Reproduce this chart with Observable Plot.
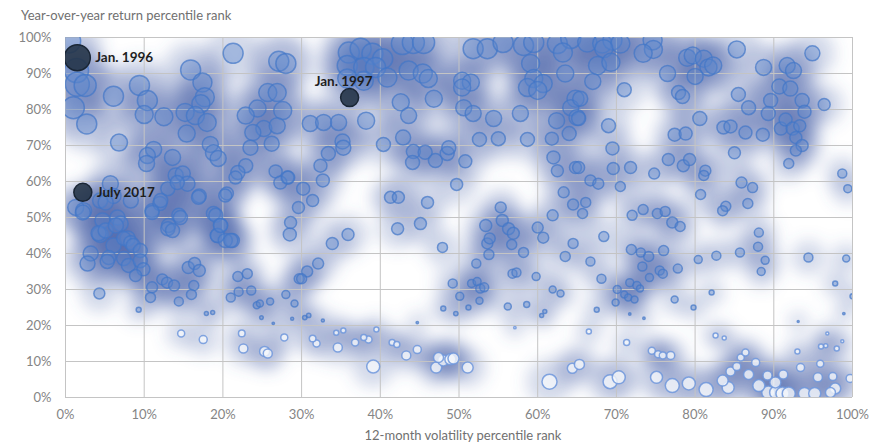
<!DOCTYPE html>
<html><head><meta charset="utf-8">
<script src="https://cdn.jsdelivr.net/npm/d3@7"></script>
<script src="https://cdn.jsdelivr.net/npm/@observablehq/plot@0.6"></script>
<style>body{margin:0;background:#fff}</style>
</head><body><div id="chart"></div>
<script>
// [volatility percentile, return percentile, bubble magnitude]
const bubbles = [
[1.4,90.8,12],[1.5,87,12],[2.5,86.7,11],[1.0,80.5,11],[2.7,76,10],[6.1,83.7,10],[9.4,86.7,10],[10.4,82.5,10],[10,78.6,9],[12.5,78,9],[15.9,91,10],[17.4,87.5,9.5],[17.7,83.4,9.5],[17.2,81.6,9],[15.2,79.2,9],[16.5,78.3,9],[18,76.4,9],[15.4,73.3,8.5],[21.3,95.6,10],[27.1,93.4,10],[28,92.8,10],[25.7,84.7,9],[26.9,84.7,9],[24.4,80.3,8.5],[27.6,79.7,9],[22.9,78.3,8.5],[25.2,74.7,8],[26.9,75.5,8],[23.8,73.6,8],[26.2,70.5,7.5],[23.5,69.4,7.5],[18.4,70.3,8],[18.8,68,8],[19.4,66.4,8],[6.8,70.8,8.5],[11.2,68.9,8],[10.4,67.2,8],[10.3,65,8],[13.6,66.7,8],[14,61.7,7.5],[14.9,62.2,7.5],[15.5,59.4,7.5],[13,58,7],[17,56,7],[20.5,56.7,6.5],[22.9,64.4,7],[21.6,61.1,6.5],[26.7,62.8,6.5],[28.2,61.1,6.5],[27.3,59.7,6.5],[5.7,59.4,8],[6.1,56,7.5],[4.4,54.7,7.5],[1.3,52.8,8],[2.3,51.9,8],[11,51.9,7],[12,53.9,7],[14.4,50.6,7],[18.8,51.1,7],[0.4,99,12],
[2.2,51.4,7.5],[4.7,49.2,7.5],[6.6,50,7.5],[7.0,48.3,7.5],[4.2,45.6,7.5],[5.1,46.4,7.5],[5.5,38.9,7],[7.4,44.2,7],[8.3,43,7],[8.3,54.7,7.5],[5.1,54.2,7.5],[14.2,59.7,7],[12.1,54.7,7],[11,51.4,7],[14.6,50,7],[13.1,47.8,7],[16.9,55.6,7],[20.3,56.1,6.5],[19.1,50.6,7],[19.7,47.8,7],[21.2,43.6,7],[19.3,45,7],[21.9,62.5,7],
[36,95.8,10.5],[37.5,96.9,10.5],[39,95.5,10.5],[40.3,94.1,10],[35.8,92.2,10],[37.9,91.7,10],[39.4,91.7,10],[40.9,88.9,9.5],[35.8,88.6,9.5],[37.9,88,9.5],[42.8,98.3,11],[44.2,98.6,11],[45.5,98.6,11],[43.6,90.8,9.5],[45.4,90,9.5],[46.1,88.6,9],[51.8,96.9,10],[53.6,96.9,10],[55.6,98.6,10],[58.2,97.8,10],[59.5,98.6,10],[62.5,98.3,10],[63.2,95.8,9.5],[64.2,99.7,10],[59.1,92.8,9],[50.4,88,8.5],[51.5,87.5,8.5],[50.4,86.1,8.5],[46.8,83,8.5],[42.6,82,8.5],[43.6,78.3,8],[50.6,80.5,8],[51.8,78.9,8],[54.4,77.5,8],[57.8,78.9,8],[59.5,88.6,9],[60.7,87.2,9],[58.7,86.1,9],[60,85.3,9],[63.5,90,8.5],[64.8,83,8.5],[64.2,80.5,8],[62.4,76.9,8],[65,77.8,8],[31.1,76.1,8],[32.8,76.4,8],[34.7,76.4,8],[38.2,76.9,8.5],[35.2,71.1,7.5],[35.3,69.4,7.5],[40.4,70.3,7],[42.9,72.2,7.5],[44.2,68.3,7],[45.7,68.1,7],[47,65.8,7],[44.1,65.3,7],[48.5,67.8,7],[48.7,69.4,7],[50.8,65.6,6.5],[52.6,71.7,7],[55,71.9,7],[58.7,71.7,7],[61.8,71.9,6.5],[64,73.3,7],[62,66.7,6.5],[62.5,63,6],[64.8,63.9,6],[33.4,67.8,7],[32.4,64.4,6.5],[32.7,60.3,6.5],[28.3,61.1,6.5],[30.2,58,6.5],[31.4,54.7,6],[29.6,52.8,6],[41.3,55.6,6],[42.3,55.6,6],[46,54.2,6],[49.7,59.2,6],[55.3,52.8,5.5],[63.3,57,5.5],[64.5,53.6,5.5],[61.9,50.6,5.5],
[66.3,98.6,9.5],[68.2,98.3,9.5],[69.5,99.2,9.5],[70.5,98.3,9.5],[68.4,96.9,9],[67.6,92.2,9],[69.3,93.1,9],[74.6,99.2,9.5],[74.7,96.7,9],[73.4,95.6,9],[76.5,90,8],[79,94.4,8.5],[79.7,95,8.5],[81.1,94.1,8.5],[81.7,91.7,8.5],[82.3,92.2,8.5],[80,89.2,8],[85.3,96.7,8.5],[88.7,91.7,8],[91.7,92.2,8],[92.5,90.8,8],[94.9,95.6,7.5],[67,87.8,8],[71,85.5,7],[77.9,84.7,7],[78.4,83.6,7],[85.5,84.2,7],[86.8,80.5,7],[89.6,82.5,7],[89.3,78.9,7],[90.7,86.4,7.5],[92.1,85.8,7.5],[93.6,82.5,7],[93.9,79.4,6.5],[96.4,81.4,6],[65.4,83,7.5],[65.2,77.5,7],[69,75.5,7],[77.4,73,6.5],[78.8,73.3,6.5],[80.6,77.5,7],[83.6,75,6.5],[84.5,75.3,6.5],[86.4,73.6,6.5],[88.6,73,6.5],[90.9,74.7,6.5],[91.5,77.2,6.5],[92.4,74.7,6.5],[93.3,75.5,6],[92.8,72.2,6],[93.6,70,6],[92.8,68.6,5.5],[69.5,69.2,6.5],[65.2,63.9,6],[69.6,63.6,6],[71.8,63.9,6],[76.6,66.1,6],[78.5,64.4,6],[79.3,66.1,6],[81.3,63,5.5],[81.1,61.7,5],[85,68,6],[91.9,65,5],[98.7,62.2,4.5],[99.4,58,4],[66.7,60.3,5.5],[67.7,59.4,5.5],[70.5,58.6,5],[74.8,62.2,5.5],[80.7,56.4,5],[85.9,59.7,5.5],[87.3,58.3,5],[86.7,53.9,5],[83.9,53.1,5],[83.5,51.9,5],[73.4,52.2,5],[75.2,51.1,5],[76.2,51.7,5],[66.1,54.2,5],[65.7,51.1,5],[72,50.6,5],
[4.4,45.3,8],[6.4,47.8,7.5],[6.1,42.2,7.5],[7.9,44.2,7.5],[8.6,42.2,7],[9.5,40.8,7],[3.2,40,7.5],[2.8,37.2,7.5],[5.3,37.8,7],[7.4,38.6,7],[8,36.7,7],[9.5,38,7],[9.9,35.6,6.5],[8.9,33.9,6],[4.3,28.9,5.5],[9.3,24.4,2.5],[11,30.6,5.5],[10.8,27.8,5],[12.3,32.8,5.5],[12.9,31.9,5.5],[13.8,31.1,5.5],[14.4,26.7,4.5],[15.6,36.1,6],[16.4,37.2,6],[17,35.3,6],[16.3,31.1,5],[16,28.6,5],[17.9,23.3,2],[18.7,23.6,2],[14.7,17.8,3.5],[17.5,16.1,4],[19.3,45,7],[20.3,43.6,7],[21,43.6,7],[13,46.9,7],[13.6,46.4,7],[19.7,47.8,7],[21.9,33.6,5],[23.1,34.4,5],[22,29.4,4.5],[23.6,29.7,4.5],[21,27.8,4.5],[24.3,25.6,3.5],[24.7,26.1,3.5],[26,26.7,3.5],[28,28.6,4],[29.1,26.1,3.5],[24.9,22.2,1.8],[22.4,17.8,3.3],[22.6,13.6,4.5],[25.3,12.8,5],[25.7,12.2,4.5],[27.8,16.7,3.5],[28.5,45.3,6.5],[28.6,48.6,6],[29.7,33,5],[26.4,20.6,1.2],[28.8,21.9,1.5],
[33.9,42.8,6],[35.9,45.3,6],[42.2,46.9,6],[45.1,48.3,6],[32.1,37.2,5.5],[30.7,35,5.5],[30,33,5],[30.4,22.2,2.2],[30.9,22.8,2.2],[32.7,21.4,1.5],[31.4,16.4,3.3],[31.9,15,3.5],[34.6,13.9,4.5],[34.4,18,2.5],[35.3,18.6,2.5],[36.8,15.3,3.5],[37.9,16.7,3],[38.5,16.1,3.5],[39.5,18.9,2.5],[39.1,8.6,6.5],[41.5,15.3,3],[42.1,14.7,3],[43.3,11.7,4.5],[44.7,13.3,4],[47.4,11.1,5],[47.1,8.3,5.5],[48,10.3,5.5],[48.9,10.6,5.5],[49.3,10.8,5.5],[51.1,8.3,5.5],[44.7,20.8,1.2],[47.9,41.7,5],[49.2,31.7,4.5],[50.1,28.1,4],[48,24.7,2.5],[49.6,23.3,2.2],[51.2,25,2.5],[51.6,31.7,4],[52.3,32.2,4],[52.7,30.3,4.5],[53.2,30.6,4.5],[52.6,26.9,3.5],[52.2,37.2,4.5],[53.8,39.7,5],[53.4,47.8,6],[53.6,42.8,5.5],[53.9,44.2,5.5],[55.5,49.2,6],[56.3,46.9,6],[56.9,45.6,6],[56.7,42.5,5],[58.2,40.3,5],[56.8,34.4,4.5],[57.3,34.7,4.5],[56.2,25.3,3.5],[58.6,25.8,3],[57.1,19.4,1.2],[60,47.2,5.5],[60.7,44.4,5.5],[59.8,33.6,4],[61.9,30,3.5],[62.9,28.9,3.5],[60.5,22.8,2],[60.9,23.9,2],[63.5,39.2,5],[64.5,42.8,5],[61.5,4.4,7.5],[64.4,8.1,5],[65.3,9.2,5],
[68.4,44.7,5],[77.1,48.6,5.5],[78.1,47.5,5],[66.7,37.8,4.5],[68.1,33,4.5],[71.9,41.1,5],[73.1,40.3,4.5],[74.1,39.2,5],[76,40.8,5],[73.3,36.4,4.5],[74.2,33.3,4],[75.5,35.3,4.5],[75.9,34.4,4.5],[77.8,35.8,4.5],[71.7,31.9,4],[72.6,31.1,4],[73,30.3,3.5],[70.1,30,4],[71,28.6,3.5],[71.5,27.8,3.5],[72.3,27.2,3.5],[69.9,26.4,3.5],[67.5,24.4,2.5],[77.4,27.2,3.5],[79.8,25,2.5],[80.4,38.3,4],[82.7,39.4,4.5],[85.7,40.3,4.5],[88.1,45.8,4.5],[88,41.9,4.5],[88.9,38.1,4],[88.4,35,4],[82.1,29.2,2.5],[94.4,38.9,4.5],[99.2,38.6,3.5],[97.8,31.7,2.5],[100,28.1,2.5],[98.9,23.3,1.2],[93.1,21.1,1],[66.5,18.3,2.5],[71.3,15.3,3],[74.5,13,3.5],[75.3,12,3.5],[75.9,11.7,3.5],[76.9,11.7,4],[82.6,17.2,2.5],[69.2,4.4,7],[70.3,5.6,6.5],[75.1,5.6,6],[77.1,3.3,7],[79.2,3.9,6.5],[81.4,2.2,7],[83.5,4.7,5.5],[84.2,2.8,6],[84.5,7.2,4.5],[85.3,8.6,4],[85.8,11.1,3.5],[86.4,12.5,3.5],[87.7,9.7,4],[86.8,6.4,5],[88.1,3.3,6],[89.3,1.4,6.5],[89.2,6.1,4.5],[90.2,4.2,5.5],[90.3,1.4,6.5],[91.1,1.1,6.5],[91.9,1.1,6.5],[91.2,6.4,4.5],[93.4,8.3,4],[93.9,1.1,6],[95.2,1.1,6],[95.6,5.6,4.5],[95.9,9.4,3.5],[97.5,5.8,4],[97.8,2.5,5.5],[97.2,1.4,5],[99.7,5.3,4],[93,12.8,2.5],[96,14.2,2.5],[96.6,14.4,2],[98,13.6,2.5],[98.7,15.6,1.5],[96.8,17.8,1.5],[71.7,23.2,1.2],[73.5,22,1.2],[83.7,16.5,2]
];

const highlights = [
  {label: "Jan. 1996", vol: 1.5, ret: 94.4, size: 13},
  {label: "July 2017", vol: 2.2, ret: 57.0, size: 9},
  {label: "Jan. 1997", vol: 36.1, ret: 83.3, size: 9}
];

const ticks = [0, 10, 20, 30, 40, 50, 60, 70, 80, 90, 100];
const tickLabels = ["0%", "10%", "20%", "30%", "40%", "50%", "60%", "70%", "80%", "90%", "100%"];
const yTitle = "Year-over-year return percentile rank";
const xTitle = "12-month volatility percentile rank";

const negative = d => d[1] < 20.5;
const fmt = d => tickLabels[ticks.indexOf(d)];
const FONT = "Lato, 'Open Sans', sans-serif";

const chart = Plot.plot({
  width: 875, height: 448,
  marginLeft: 65, marginRight: 23, marginTop: 37, marginBottom: 51,
  style: {fontFamily: FONT, fontSize: "13px", color: "#858585", background: "#fff"},
  x: {domain: [0, 100], ticks, tickFormat: fmt, label: null, tickSize: 0, tickPadding: 12},
  y: {domain: [0, 100], ticks, tickFormat: fmt, label: null, tickSize: 0, tickPadding: 14},
  r: {type: "identity"},
  marks: [
    Plot.dot(bubbles, {x: d => d[0], y: d => d[1], r: d => d[2] * 2 + 8, fill: "rgba(78,102,170,0.25)", stroke: null, clip: true}),
    Plot.gridX(ticks, {stroke: "#c4c4c4", strokeOpacity: 1, strokeWidth: 1}),
    Plot.gridY(ticks, {stroke: "#c4c4c4", strokeOpacity: 1, strokeWidth: 1}),
    Plot.dot(bubbles, {
      x: d => d[0], y: d => d[1], r: d => d[2],
      fill: d => negative(d) ? "rgba(246,248,252,0.78)" : "rgba(92,136,206,0.40)",
      stroke: d => negative(d) ? "rgba(110,150,220,0.85)" : "rgba(66,118,200,0.70)",
      strokeWidth: 1.5, clip: true
    }),
    Plot.dot(highlights, {x: "vol", y: "ret", r: "size", fill: "rgba(34,50,70,0.88)", stroke: "#1a2635", strokeWidth: 1.5, clip: true}),
    Plot.text(highlights.filter(d => d.label === "Jan. 1996"), {x: "vol", y: "ret", text: "label", dx: 18, textAnchor: "start", fontWeight: "bold", fontSize: 13.5, fill: "#1e1e1e"}),
    Plot.text(highlights.filter(d => d.label === "July 2017"), {x: "vol", y: "ret", text: "label", dx: 14, textAnchor: "start", fontWeight: "bold", fontSize: 13.5, fill: "#1e1e1e"}),
    Plot.text(highlights.filter(d => d.label === "Jan. 1997"), {x: "vol", y: "ret", text: "label", dx: -6, dy: -16, textAnchor: "middle", fontWeight: "bold", fontSize: 13.5, fill: "#1e1e1e"})
  ]
});

document.getElementById("chart").appendChild(chart);

const svg = d3.select(chart);
const defs = svg.insert("defs", ":first-child");
const f = defs.append("filter").attr("id", "glowBlur")
  .attr("filterUnits", "userSpaceOnUse").attr("x", 0).attr("y", 0).attr("width", 875).attr("height", 448);
f.append("feGaussianBlur").attr("stdDeviation", 8);
const dotGroups = svg.selectAll('g[aria-label="dot"]').nodes();
if (dotGroups.length) d3.select(dotGroups[0]).attr("filter", "url(#glowBlur)");

svg.append("text").attr("x", 21).attr("y", 20).attr("text-anchor", "start")
  .attr("fill", "#707070").attr("font-size", 13).attr("font-family", FONT)
  .text(yTitle);
svg.append("text").attr("x", 463).attr("y", 440).attr("text-anchor", "middle")
  .attr("fill", "#707070").attr("font-size", 13).attr("font-family", FONT)
  .text(xTitle);
</script>
</body></html>
